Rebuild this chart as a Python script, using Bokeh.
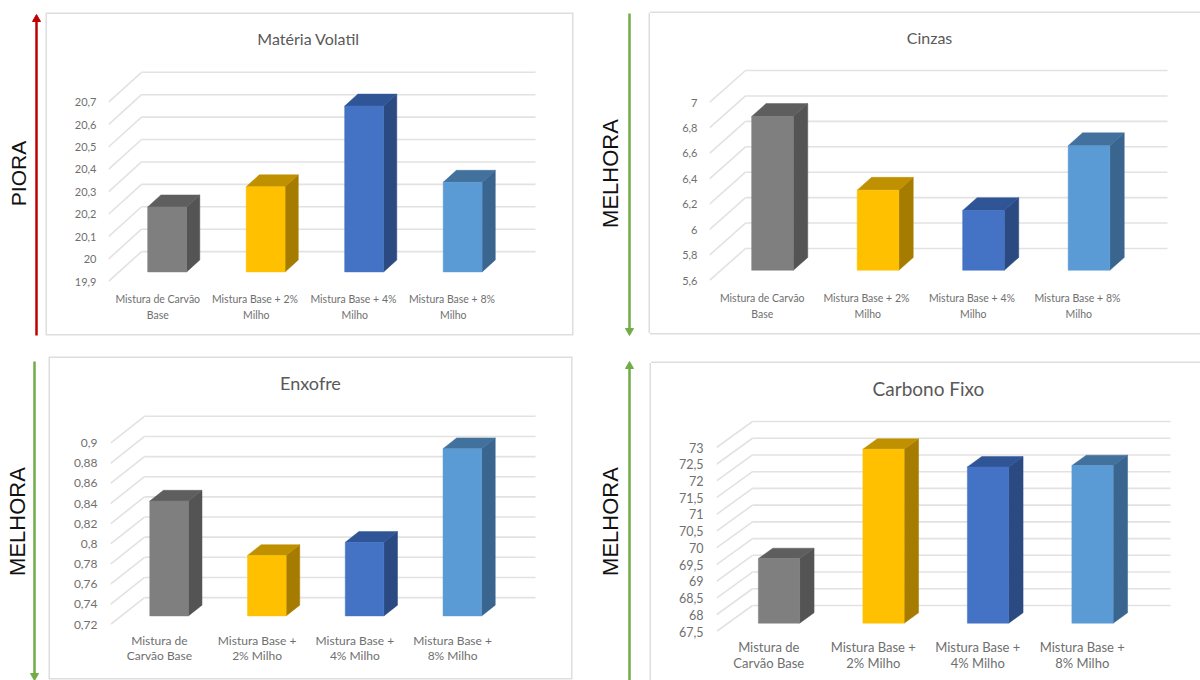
from bokeh.core.properties import value
from bokeh.embed import file_html
from bokeh.layouts import column, row
from bokeh.models import FixedTicker, Label, Range1d
from bokeh.plotting import figure
from bokeh.resources import INLINE

# Category labels
cats_wide = ["Mistura de Carvão\nBase", "Mistura Base +  2%\nMilho",
             "Mistura Base +  4%\nMilho", "Mistura Base +  8%\nMilho"]
cats_short = ["Mistura de\nCarvão Base", "Mistura Base +\n2% Milho",
              "Mistura Base +\n4% Milho", "Mistura Base +\n8% Milho"]

# Series values
volatil_values = [20.19, 20.28, 20.64, 20.30]
cinzas_values = [6.81, 6.23, 6.07, 6.58]
enxofre_values = [0.834, 0.78, 0.793, 0.886]
carbono_values = [69.43, 72.70, 72.17, 72.21]

# Axis ticks and their printed form
volatil_ticks = [19.9, 20.0, 20.1, 20.2, 20.3, 20.4, 20.5, 20.6, 20.7]
volatil_labels = ["19,9", "20", "20,1", "20,2", "20,3", "20,4", "20,5", "20,6", "20,7"]
cinzas_ticks = [5.6, 5.8, 6.0, 6.2, 6.4, 6.6, 6.8, 7.0]
cinzas_labels = ["5,6", "5,8", "6", "6,2", "6,4", "6,6", "6,8", "7"]
enxofre_ticks = [0.72, 0.74, 0.76, 0.78, 0.80, 0.82, 0.84, 0.86, 0.88, 0.90]
enxofre_labels = ["0,72", "0,74", "0,76", "0,78", "0,8", "0,82", "0,84", "0,86", "0,88", "0,9"]
carbono_ticks = [67.5, 68, 68.5, 69, 69.5, 70, 70.5, 71, 71.5, 72, 72.5, 73]
carbono_labels = ["67,5", "68", "68,5", "69", "69,5", "70", "70,5", "71", "71,5", "72", "72,5", "73"]

# Bar face colours: front, side, top
FACES = [("#7f7f7f", "#545454", "#5e5e5e"),
         ("#ffc000", "#a67c00", "#bf9000"),
         ("#4472c4", "#2b4a82", "#2f5597"),
         ("#5b9bd5", "#3a658f", "#41719c")]
GRID = "#e2e2e2"
TEXT = "#6f6f6f"
BORDER = "#dedede"
RED = "#c00000"
GREEN = "#70ad47"
FONT = "Lato"

ALL_SIDES = f"0 0 0 1.5px {BORDER}"
NO_RIGHT = f"-1.5px 0 0 {BORDER}, 0 -1.5px 0 {BORDER}, 0 1.5px 0 {BORDER}"
LEFT_TOP = f"-1.5px 0 0 {BORDER}, 0 -1.5px 0 {BORDER}"


def chart(title, cats, values, ticks, labels, card, margin, shadow, front_left, back_left, right_end,
          back_top, back_bottom, depth_y, title_xy, title_size, tick_size, cat_size,
          tick_standoff, cat_standoff, line_height):
    cl, ct, cr, cb = card
    unit = (right_end - back_left) / 4
    k = (back_bottom - back_top) / (ticks[-1] - ticks[0])
    dx = (back_left - front_left) / unit
    dy = depth_y / k
    front_bottom = back_bottom + depth_y

    p = figure(width=cr - cl, height=cb - ct, output_backend="svg", toolbar_location=None,
               x_range=Range1d(0, (cr - front_left) / unit),
               y_range=Range1d(ticks[0], ticks[0] + (front_bottom - ct) / k),
               min_border_left=front_left - cl, min_border_right=0,
               min_border_top=0, min_border_bottom=cb - front_bottom,
               outline_line_color=None, background_fill_color="white",
               margin=margin, styles={"box-shadow": shadow})
    p.grid.visible = False

    ax = p.xaxis[0]
    ax.ticker = FixedTicker(ticks=[0.5, 1.5, 2.5, 3.5])
    ax.major_label_overrides = {i + 0.5: c for i, c in enumerate(cats)}
    ay = p.yaxis[0]
    ay.ticker = FixedTicker(ticks=ticks)
    ay.major_label_overrides = dict(zip(ticks, labels))
    for a, size in ((ax, cat_size), (ay, tick_size)):
        a.axis_line_color = None
        a.major_tick_line_color = None
        a.minor_tick_line_color = None
        a.major_label_text_color = TEXT
        a.major_label_text_font = FONT
        a.major_label_text_font_size = size
    ax.major_label_standoff = cat_standoff
    ay.major_label_standoff = tick_standoff
    ax.major_label_orientation = "horizontal"
    ax.major_label_text_line_height = line_height

    # Back wall rules and the slanted rules leading to the axis
    x_back = [dx] * len(ticks)
    x_end = [4 + dx] * len(ticks)
    y_back = [t + dy for t in ticks]
    p.segment(x_back, y_back, x_end, y_back, line_color=GRID, line_width=1.6)
    p.segment([0] * len(ticks), ticks, x_back, y_back, line_color=GRID, line_width=1.6)

    # Boxes: the front face sits at a fixed depth between axis and back wall
    d_front, d_back, bar_w, nudge = 0.32, 0.72, 0.395, -0.012
    base = ticks[0]
    for i, v in enumerate(values):
        front, side_face, top = FACES[i]
        left = i + 0.5 - bar_w / 2 + d_front * dx + nudge
        right = left + bar_w
        y0 = base + d_front * dy
        y1 = v + d_front * dy
        sx, sy = (d_back - d_front) * dx, (d_back - d_front) * dy
        p.patch([right, right + sx, right + sx, right], [y0, y0 + sy, y1 + sy, y1],
                fill_color=side_face, line_color=side_face, line_width=0.5)
        p.patch([left, left + sx, right + sx, right], [y1, y1 + sy, y1 + sy, y1],
                fill_color=top, line_color=top, line_width=0.5)
        p.vbar(x=[left + bar_w / 2], width=bar_w, bottom=[y0], top=[y1],
               fill_color=front, line_color=front, line_width=0.5)

    p.add_layout(Label(x=(title_xy[0] - front_left) / unit,
                       y=ticks[0] + (front_bottom - title_xy[1]) / k,
                       text=title, text_align="center", text_baseline="middle",
                       text_color="#595959", text_font=FONT, text_font_size=title_size))
    return p


def side(caption, size, width, height, top, text_x, text_y, arrow_x, arrow_from, arrow_to, color):
    """Narrow strip holding the rotated caption and the direction arrow, in page pixels."""
    bottom = top + height
    p = figure(frame_width=width, frame_height=height, output_backend="svg", toolbar_location=None,
               x_range=Range1d(0, width), y_range=Range1d(0, height),
               x_axis_location=None, y_axis_location=None,
               min_border=0, outline_line_color=None)
    p.grid.visible = False
    sign = 1 if arrow_to > arrow_from else -1
    neck = arrow_to - sign * 7
    y_from, y_neck, y_to, y_text = (bottom - y for y in (arrow_from, neck, arrow_to, text_y))
    p.segment([arrow_x], [y_from], [arrow_x], [y_neck], line_color=color, line_width=2.5)
    p.patch([arrow_x - 4, arrow_x + 4, arrow_x], [y_neck, y_neck, y_to], fill_color=color, line_color=color)
    p.text([text_x], [y_text], text=[caption], angle=90, angle_units="deg", text_align="center",
           text_baseline="middle", text_color="#111111", text_font=value("Liberation Sans"),
           text_font_size=size)
    return p


s_a = side("PIORA", "21px", 47, 346, 0, 18, 173, 36, 335, 14, RED)
a = chart("Matéria Volatil", cats_wide, volatil_values, volatil_ticks, volatil_labels,
          (47, 14, 572, 334), (14, 18, 12, 0), ALL_SIDES, 108, 141, 535, 72, 252, 30,
          (308, 38), "16px", "11px", "10.5px", 6, 5, 1.35)
s_b = side("MELHORA", "22px", 60, 346, 0, 20, 173, 39, 13, 335, GREEN)
b = chart("Cinzas", cats_wide, cinzas_values, cinzas_ticks, cinzas_labels,
          (650, 13, 1200, 333), (13, 0, 13, 0), NO_RIGHT, 709, 745, 1167, 70, 248, 32,
          (929, 37), "16px", "11px", "10.5px", 6, 5, 1.35)
s_c = side("MELHORA", "22px", 50, 334, 346, 17, 521, 34, 361, 680, GREEN)
c = chart("Enxofre", cats_short, enxofre_values, enxofre_ticks, enxofre_labels,
          (50, 358, 571, 678), (12, 19, 2, 0), ALL_SIDES, 110, 144, 535, 416, 598, 27,
          (310, 383), "18px", "12px", "12px", 7, 2, 1.05)
s_d = side("MELHORA", "22px", 61, 334, 346, 20, 521, 39, 680, 361, GREEN)
# This card runs past the lower page edge; the row below trims the overhang
d = chart("Carbono Fixo", cats_short, carbono_values, carbono_ticks, carbono_labels,
          (651, 363, 1200, 685), (17, 0, 0, 0), LEFT_TOP, 716, 752, 1170, 421, 605, 26,
          (928, 388), "19px", "12.5px", "13px", 7, 1, 1.0)

lower = row(s_c, c, s_d, d, spacing=0, height=334, styles={"overflow": "hidden"})
page = column(row(s_a, a, s_b, b, spacing=0), lower, spacing=0, height=680)
open("out.html", "w").write(file_html(page, INLINE))
